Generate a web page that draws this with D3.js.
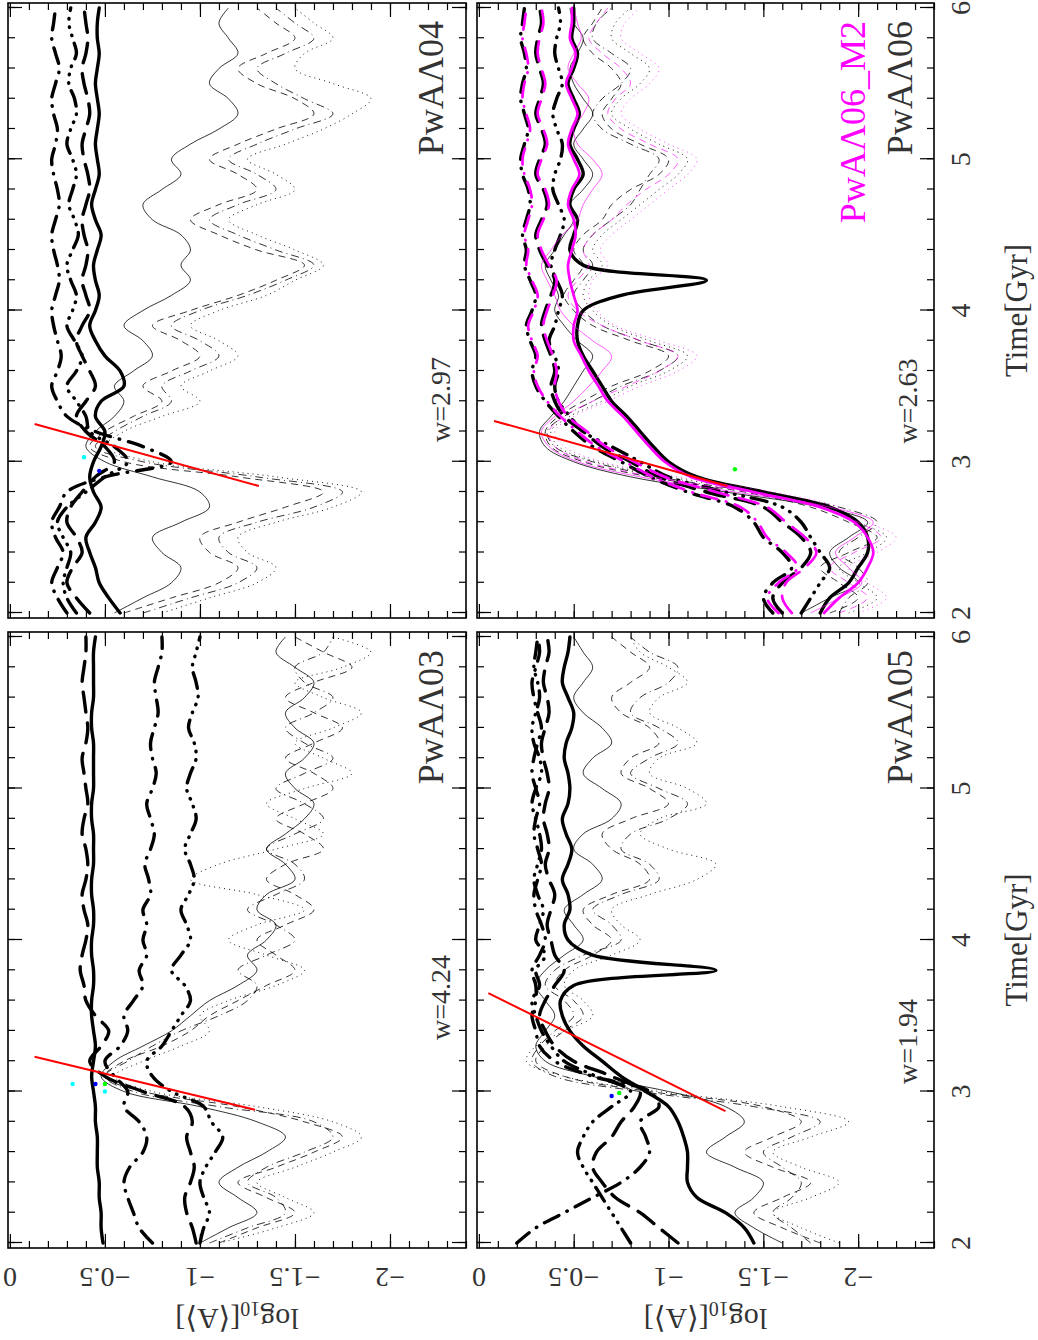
<!DOCTYPE html>
<html>
<head>
<meta charset="utf-8">
<script src="https://cdn.jsdelivr.net/npm/d3@7"></script>
<style>
  body { margin: 0; background: #fff; }
  svg { display: block; }
  text { font-family: "Liberation Serif", "DejaVu Serif", serif; }
</style>
</head>
<body>
<div id="chart"></div>
<script>
// time samples (Gyr), shared by every series
const times = [2.0, 2.1, 2.2, 2.3, 2.4, 2.5, 2.6, 2.7, 2.8, 2.9,
               3.0, 3.1, 3.2, 3.3, 3.4, 3.5, 3.6, 3.7, 3.8, 3.9,
               4.0, 4.1, 4.2, 4.3, 4.4, 4.5, 4.6, 4.7, 4.8, 4.9,
               5.0, 5.1, 5.2, 5.3, 5.4, 5.5, 5.6, 5.7, 5.8, 5.9, 6.0];

const timeTicks = [2, 3, 4, 5, 6];
const timeTickLabels = ['2', '3', '4', '5', '6'];
const valueTicks = [0, -0.5, -1, -1.5, -2];
const valueTickLabels = ['0', '\u22120.5', '\u22121', '\u22121.5', '\u22122'];

// ---- PwAΛ03
const p03_thickSolid = [-0.49,-0.48,-0.48,-0.47,-0.47,-0.46,-0.46,-0.46,-0.45,-0.45,
  -0.44,-0.43,-0.44,-0.45,-0.44,-0.43,-0.43,-0.44,-0.44,-0.43,
  -0.43,-0.44,-0.44,-0.43,-0.43,-0.44,-0.44,-0.44,-0.43,-0.43,
  -0.44,-0.44,-0.44,-0.44,-0.43,-0.43,-0.44,-0.44,-0.44,-0.44,-0.45];
const p03_thickDash = [-0.98,-0.96,-0.93,-0.92,-0.95,-0.97,-0.95,-0.93,-0.96,-0.92,
  -0.70,-0.50,-0.42,-0.48,-0.52,-0.45,-0.40,-0.39,-0.37,-0.38,
  -0.40,-0.41,-0.39,-0.38,-0.40,-0.41,-0.40,-0.38,-0.39,-0.41,
  -0.40,-0.39,-0.38,-0.40,-0.41,-0.40,-0.39,-0.38,-0.39,-0.40,-0.40];
const p03_thickDotDash = [-0.75,-0.68,-0.65,-0.62,-0.60,-0.63,-0.70,-0.72,-0.68,-0.60,
  -0.62,-0.55,-0.50,-0.58,-0.62,-0.60,-0.65,-0.70,-0.68,-0.72,
  -0.70,-0.72,-0.70,-0.74,-0.73,-0.71,-0.74,-0.76,-0.74,-0.72,
  -0.75,-0.77,-0.75,-0.74,-0.76,-0.78,-0.77,-0.76,-0.78,-0.80,-0.80];
const p03_thickDashDots = [-1.00,-1.02,-1.05,-1.02,-1.00,-1.03,-1.08,-1.12,-1.06,-1.02,
  -0.85,-0.75,-0.72,-0.80,-0.85,-0.90,-0.95,-0.92,-0.85,-0.90,
  -0.95,-0.93,-0.90,-0.94,-0.97,-0.95,-0.92,-0.95,-0.98,-0.96,
  -0.93,-0.95,-0.98,-0.97,-0.94,-0.96,-0.99,-0.98,-0.96,-0.98,-1.00];
const p03_thinSolid = [-1.00,-1.15,-1.30,-1.20,-1.10,-1.20,-1.35,-1.45,-1.30,-1.00,
  -0.60,-0.48,-0.55,-0.70,-0.85,-0.95,-1.05,-1.20,-1.30,-1.25,
  -1.35,-1.40,-1.30,-1.35,-1.50,-1.45,-1.35,-1.45,-1.55,-1.60,
  -1.50,-1.45,-1.55,-1.60,-1.50,-1.45,-1.55,-1.60,-1.50,-1.40,-1.45];
const p03_thinDash = [-1.10,-1.30,-1.50,-1.35,-1.20,-1.40,-1.60,-1.75,-1.55,-1.20,
  -0.70,-0.50,-0.60,-0.80,-0.95,-1.05,-1.20,-1.35,-1.50,-1.40,
  -1.30,-1.45,-1.60,-1.50,-1.35,-1.45,-1.65,-1.55,-1.40,-1.55,
  -1.70,-1.60,-1.45,-1.60,-1.75,-1.60,-1.45,-1.60,-1.80,-1.65,-1.50];
const p03_thinDotDash = [-1.05,-1.25,-1.45,-1.40,-1.25,-1.35,-1.55,-1.70,-1.60,-1.10,
  -0.65,-0.50,-0.62,-0.75,-0.90,-1.10,-1.25,-1.30,-1.20,-1.35,
  -1.50,-1.40,-1.25,-1.40,-1.55,-1.50,-1.35,-1.50,-1.65,-1.55,
  -1.40,-1.55,-1.70,-1.55,-1.45,-1.60,-1.70,-1.55,-1.50,-1.65,-1.70];
const p03_thinDot = [-1.10,-1.40,-1.60,-1.45,-1.30,-1.50,-1.70,-1.85,-1.70,-1.30,
  -0.75,-0.55,-0.70,-0.90,-1.05,-1.00,-1.15,-1.40,-1.55,-1.35,
  -1.15,-1.30,-1.55,-1.30,-0.95,-1.10,-1.40,-1.65,-1.50,-1.35,
  -1.55,-1.80,-1.65,-1.50,-1.70,-1.85,-1.65,-1.50,-1.75,-1.90,-1.70];
const p03_fit = [[3.23, -0.13], [2.88, -1.29]];
const p03_dots = [[3.05, -0.33, 'cyan'], [3.05, -0.45, 'blue'], [3.05, -0.50, 'lime'], [3.0, -0.50, 'cyan']];

// ---- PwAΛ04
const p04_thickSolid = [-0.58,-0.52,-0.47,-0.45,-0.42,-0.40,-0.45,-0.48,-0.44,-0.42,
  -0.44,-0.48,-0.50,-0.45,-0.48,-0.60,-0.58,-0.50,-0.45,-0.42,
  -0.45,-0.47,-0.45,-0.44,-0.46,-0.48,-0.45,-0.43,-0.45,-0.47,
  -0.46,-0.45,-0.46,-0.47,-0.46,-0.45,-0.46,-0.47,-0.46,-0.46,-0.47];
const p04_thickDash = [-0.42,-0.35,-0.30,-0.33,-0.38,-0.35,-0.30,-0.32,-0.38,-0.45,
  -0.55,-0.50,-0.40,-0.35,-0.40,-0.45,-0.42,-0.38,-0.35,-0.38,
  -0.42,-0.40,-0.38,-0.40,-0.41,-0.39,-0.38,-0.40,-0.42,-0.41,
  -0.39,-0.38,-0.40,-0.42,-0.41,-0.39,-0.38,-0.40,-0.41,-0.40,-0.39];
const p04_thickDotDash = [-0.30,-0.25,-0.22,-0.25,-0.28,-0.24,-0.22,-0.26,-0.30,-0.50,
  -0.85,-0.70,-0.45,-0.30,-0.25,-0.22,-0.25,-0.27,-0.25,-0.23,
  -0.22,-0.24,-0.26,-0.25,-0.23,-0.22,-0.24,-0.26,-0.25,-0.23,
  -0.22,-0.24,-0.25,-0.23,-0.22,-0.24,-0.26,-0.24,-0.22,-0.23,-0.24];
const p04_thickDashDots = [-0.35,-0.30,-0.28,-0.30,-0.32,-0.28,-0.25,-0.30,-0.40,-0.50,
  -0.62,-0.55,-0.42,-0.40,-0.35,-0.30,-0.35,-0.38,-0.34,-0.30,
  -0.33,-0.35,-0.32,-0.30,-0.33,-0.36,-0.34,-0.31,-0.33,-0.35,
  -0.33,-0.30,-0.32,-0.35,-0.34,-0.31,-0.32,-0.35,-0.33,-0.31,-0.32];
const p04_thinSolid = [-0.55,-0.70,-0.85,-0.90,-0.80,-0.75,-0.90,-1.05,-1.00,-0.75,
  -0.50,-0.40,-0.45,-0.55,-0.60,-0.55,-0.65,-0.75,-0.70,-0.60,
  -0.70,-0.85,-0.95,-0.90,-0.95,-0.90,-0.75,-0.70,-0.80,-0.90,
  -0.85,-0.95,-1.10,-1.20,-1.15,-1.05,-1.10,-1.20,-1.15,-1.10,-1.15];
const p04_thinDash = [-0.60,-0.85,-1.10,-1.20,-1.05,-1.00,-1.20,-1.45,-1.65,-1.20,
  -0.60,-0.42,-0.50,-0.65,-0.80,-0.70,-0.85,-1.00,-0.90,-0.75,
  -0.95,-1.20,-1.40,-1.55,-1.30,-1.10,-0.95,-1.10,-1.30,-1.20,
  -1.05,-1.20,-1.40,-1.60,-1.50,-1.30,-1.20,-1.35,-1.50,-1.40,-1.30];
const p04_thinDotDash = [-0.70,-0.95,-1.20,-1.30,-1.15,-1.10,-1.30,-1.60,-1.75,-1.30,
  -0.70,-0.45,-0.55,-0.70,-0.85,-0.80,-0.95,-1.10,-1.00,-0.85,
  -1.00,-1.25,-1.45,-1.60,-1.40,-1.20,-1.05,-1.20,-1.40,-1.30,
  -1.15,-1.30,-1.50,-1.70,-1.55,-1.40,-1.30,-1.45,-1.60,-1.50,-1.40];
const p04_thinDot = [-0.80,-1.05,-1.30,-1.40,-1.25,-1.20,-1.40,-1.70,-1.85,-1.40,
  -0.75,-0.50,-0.60,-0.80,-1.00,-0.90,-1.05,-1.20,-1.10,-0.95,
  -1.10,-1.35,-1.50,-1.65,-1.50,-1.30,-1.15,-1.30,-1.50,-1.40,
  -1.25,-1.45,-1.65,-1.80,-1.90,-1.70,-1.50,-1.55,-1.70,-1.60,-1.50];
const p04_fit = [[3.25, -0.13], [2.84, -1.31]];
const p04_dots = [[3.03, -0.39, 'cyan'], [2.94, -0.47, 'blue']];

// ---- PwAΛ05
const p05_thickSolid = [-1.45,-1.40,-1.30,-1.15,-1.10,-1.10,-1.10,-1.08,-1.05,-1.00,
  -0.88,-0.75,-0.65,-0.55,-0.48,-0.44,-0.43,-0.50,-1.25,-0.60,
  -0.47,-0.45,-0.48,-0.47,-0.44,-0.47,-0.49,-0.46,-0.44,-0.47,
  -0.48,-0.47,-0.45,-0.46,-0.49,-0.50,-0.47,-0.44,-0.45,-0.47,-0.48];
const p05_thickDash = [-1.05,-0.95,-0.85,-0.72,-0.65,-0.60,-0.62,-0.70,-0.75,-0.82,
  -0.85,-0.70,-0.50,-0.40,-0.35,-0.32,-0.35,-0.40,-0.45,-0.40,
  -0.38,-0.36,-0.38,-0.40,-0.37,-0.35,-0.37,-0.36,-0.34,-0.35,
  -0.37,-0.36,-0.34,-0.33,-0.35,-0.37,-0.36,-0.34,-0.35,-0.37,-0.36];
const p05_thickDotDash = [-0.20,-0.30,-0.45,-0.60,-0.75,-0.85,-0.90,-0.88,-0.85,-0.95,
  -0.90,-0.60,-0.40,-0.32,-0.30,-0.28,-0.30,-0.30,-0.28,-0.32,
  -0.35,-0.33,-0.30,-0.29,-0.31,-0.33,-0.31,-0.29,-0.30,-0.32,
  -0.30,-0.28,-0.29,-0.31,-0.33,-0.31,-0.29,-0.28,-0.30,-0.32,-0.31];
const p05_thickDashDots = [-0.80,-0.75,-0.70,-0.65,-0.60,-0.55,-0.52,-0.55,-0.60,-0.70,
  -0.80,-0.62,-0.45,-0.38,-0.33,-0.30,-0.28,-0.32,-0.30,-0.35,
  -0.30,-0.32,-0.34,-0.31,-0.29,-0.31,-0.33,-0.32,-0.30,-0.28,
  -0.30,-0.33,-0.32,-0.29,-0.28,-0.30,-0.32,-0.31,-0.29,-0.30,-0.31];
const p05_thinSolid = [-1.60,-1.45,-1.35,-1.45,-1.50,-1.35,-1.20,-1.30,-1.40,-1.30,
  -1.00,-0.60,-0.35,-0.30,-0.35,-0.40,-0.35,-0.30,-0.35,-0.45,
  -0.55,-0.50,-0.45,-0.55,-0.65,-0.60,-0.50,-0.55,-0.70,-0.75,
  -0.65,-0.55,-0.60,-0.70,-0.65,-0.55,-0.50,-0.55,-0.60,-0.55,-0.50];
const p05_thinDash = [-1.80,-1.60,-1.45,-1.60,-1.75,-1.55,-1.40,-1.55,-1.70,-1.50,
  -0.90,-0.45,-0.30,-0.35,-0.45,-0.55,-0.50,-0.40,-0.45,-0.60,
  -0.70,-0.60,-0.55,-0.70,-0.90,-0.85,-0.70,-0.65,-0.80,-1.00,
  -0.90,-0.75,-0.80,-0.95,-0.90,-0.75,-0.70,-0.80,-0.90,-0.80,-0.70];
const p05_thinDotDash = [-1.75,-1.65,-1.55,-1.65,-1.70,-1.60,-1.50,-1.65,-1.80,-1.45,
  -0.85,-0.40,-0.28,-0.32,-0.40,-0.50,-0.45,-0.35,-0.40,-0.55,
  -0.75,-0.70,-0.60,-0.75,-0.95,-0.90,-0.75,-0.80,-1.00,-1.10,
  -0.95,-0.80,-0.90,-1.05,-0.95,-0.80,-0.85,-1.00,-1.05,-0.90,-0.80];
const p05_thinDot = [-1.90,-1.70,-1.55,-1.75,-1.90,-1.70,-1.55,-1.75,-1.95,-1.60,
  -0.95,-0.45,-0.25,-0.30,-0.45,-0.60,-0.55,-0.45,-0.50,-0.70,
  -0.85,-0.75,-0.70,-0.90,-1.15,-1.25,-1.00,-0.85,-0.95,-1.20,
  -1.10,-0.90,-0.95,-1.15,-1.05,-0.90,-0.95,-1.10,-1.00,-0.85,-0.80];
const p05_fit = [[3.65, -0.05], [2.87, -1.30]];
const p05_dots = [[2.99, -0.74, 'lime'], [2.97, -0.70, 'blue']];

// ---- PwAΛ06 (black) and PwAΛ06_M2 (magenta)
const p06_thickSolid = [-1.80,-1.85,-1.95,-2.00,-2.05,-2.05,-2.00,-1.85,-1.50,-1.15,
  -1.00,-0.92,-0.85,-0.78,-0.70,-0.65,-0.60,-0.55,-0.52,-0.52,
  -0.55,-0.75,-1.20,-0.55,-0.48,-0.50,-0.52,-0.48,-0.50,-0.55,
  -0.52,-0.48,-0.50,-0.53,-0.50,-0.47,-0.50,-0.52,-0.49,-0.50,-0.50];
const p06_thickDash = [-1.60,-1.55,-1.60,-1.70,-1.75,-1.70,-1.60,-1.50,-1.20,-0.95,
  -0.80,-0.65,-0.55,-0.45,-0.40,-0.38,-0.40,-0.38,-0.35,-0.33,
  -0.35,-0.38,-0.40,-0.36,-0.32,-0.30,-0.33,-0.36,-0.34,-0.30,
  -0.32,-0.35,-0.33,-0.30,-0.32,-0.34,-0.32,-0.30,-0.31,-0.33,-0.32];
const p06_thickDotDash = [-1.55,-1.50,-1.55,-1.65,-1.60,-1.50,-1.45,-1.35,-1.10,-0.90,
  -0.75,-0.60,-0.50,-0.42,-0.35,-0.30,-0.28,-0.30,-0.27,-0.25,
  -0.28,-0.30,-0.27,-0.24,-0.25,-0.23,-0.25,-0.27,-0.26,-0.23,
  -0.22,-0.24,-0.26,-0.24,-0.22,-0.23,-0.25,-0.24,-0.22,-0.23,-0.24];
const p06_thickDashDots = [-1.70,-1.75,-1.80,-1.85,-1.80,-1.75,-1.70,-1.60,-1.30,-1.00,
  -0.85,-0.70,-0.55,-0.48,-0.42,-0.40,-0.42,-0.40,-0.37,-0.40,
  -0.42,-0.44,-0.41,-0.38,-0.40,-0.43,-0.45,-0.42,-0.39,-0.40,
  -0.43,-0.44,-0.41,-0.39,-0.41,-0.44,-0.42,-0.40,-0.41,-0.43,-0.42];
const p06_thinSolid = [-1.70,-1.85,-2.00,-1.90,-1.85,-1.95,-2.05,-1.80,-1.30,-0.80,
  -0.50,-0.35,-0.32,-0.38,-0.45,-0.50,-0.55,-0.60,-0.52,-0.45,
  -0.40,-0.42,-0.38,-0.35,-0.40,-0.45,-0.50,-0.48,-0.55,-0.60,
  -0.55,-0.50,-0.55,-0.60,-0.55,-0.50,-0.48,-0.52,-0.55,-0.50,-0.48];
const p06_thinDash = [-1.85,-2.00,-1.90,-1.80,-1.95,-2.10,-1.95,-1.75,-1.40,-0.90,
  -0.55,-0.38,-0.35,-0.42,-0.55,-0.70,-0.90,-1.00,-0.80,-0.60,
  -0.50,-0.45,-0.50,-0.55,-0.50,-0.55,-0.65,-0.70,-0.80,-0.95,
  -1.00,-0.85,-0.70,-0.65,-0.70,-0.75,-0.70,-0.60,-0.55,-0.60,-0.65];
const p06_thinDotDash = [-1.90,-1.95,-2.05,-2.00,-1.90,-2.00,-2.10,-1.90,-1.45,-0.95,
  -0.60,-0.40,-0.36,-0.45,-0.60,-0.75,-0.95,-1.05,-0.85,-0.65,
  -0.55,-0.50,-0.55,-0.60,-0.55,-0.60,-0.70,-0.80,-0.85,-0.90,
  -0.95,-0.80,-0.65,-0.60,-0.65,-0.75,-0.80,-0.70,-0.60,-0.62,-0.70];
const p06_thinDot = [-1.95,-2.10,-2.00,-1.90,-2.05,-2.15,-2.00,-1.85,-1.50,-1.00,
  -0.62,-0.42,-0.38,-0.48,-0.65,-0.80,-1.00,-1.10,-0.90,-0.70,
  -0.60,-0.55,-0.58,-0.65,-0.60,-0.65,-0.75,-0.85,-0.95,-1.05,
  -1.10,-0.95,-0.80,-0.70,-0.75,-0.85,-0.90,-0.80,-0.70,-0.72,-0.80];
const p06m_thickSolid = [-1.82,-1.90,-2.00,-2.05,-2.08,-2.05,-1.98,-1.80,-1.45,-1.12,
  -0.98,-0.90,-0.83,-0.76,-0.68,-0.63,-0.58,-0.54,-0.50,-0.50,
  -0.52,-0.50,-0.48,-0.47,-0.49,-0.51,-0.50,-0.47,-0.49,-0.53,
  -0.50,-0.47,-0.49,-0.52,-0.49,-0.46,-0.49,-0.51,-0.48,-0.49,-0.49];
const p06m_thickDash = [-1.65,-1.60,-1.62,-1.72,-1.78,-1.72,-1.62,-1.52,-1.25,-0.98,
  -0.82,-0.67,-0.57,-0.47,-0.42,-0.40,-0.41,-0.39,-0.36,-0.34,
  -0.36,-0.39,-0.41,-0.37,-0.33,-0.31,-0.34,-0.37,-0.35,-0.31,
  -0.33,-0.36,-0.34,-0.31,-0.33,-0.35,-0.33,-0.31,-0.32,-0.34,-0.33];
const p06m_thickDotDash = [-1.58,-1.52,-1.58,-1.68,-1.62,-1.52,-1.47,-1.38,-1.12,-0.92,
  -0.77,-0.62,-0.52,-0.43,-0.36,-0.31,-0.29,-0.31,-0.28,-0.26,
  -0.29,-0.31,-0.28,-0.25,-0.26,-0.24,-0.26,-0.28,-0.27,-0.24,
  -0.23,-0.25,-0.27,-0.25,-0.23,-0.24,-0.26,-0.25,-0.23,-0.24,-0.25];
const p06m_thinSolid = [-1.75,-1.90,-2.02,-1.95,-1.88,-1.98,-2.08,-1.85,-1.35,-0.85,
  -0.52,-0.37,-0.33,-0.40,-0.50,-0.58,-0.65,-0.70,-0.60,-0.50,
  -0.43,-0.40,-0.36,-0.33,-0.38,-0.44,-0.52,-0.55,-0.60,-0.65,
  -0.60,-0.52,-0.50,-0.55,-0.58,-0.52,-0.47,-0.50,-0.54,-0.52,-0.50];
const p06m_thinDash = [-1.90,-2.05,-1.95,-1.85,-1.98,-2.12,-2.00,-1.80,-1.42,-0.92,
  -0.57,-0.40,-0.37,-0.45,-0.60,-0.78,-0.95,-1.05,-0.85,-0.65,
  -0.52,-0.47,-0.52,-0.58,-0.55,-0.60,-0.70,-0.78,-0.88,-1.00,
  -1.05,-0.90,-0.75,-0.68,-0.72,-0.80,-0.75,-0.65,-0.58,-0.62,-0.68];
const p06m_thinDot = [-2.00,-2.15,-2.05,-1.95,-2.10,-2.20,-2.05,-1.90,-1.55,-1.05,
  -0.65,-0.45,-0.40,-0.50,-0.68,-0.85,-1.05,-1.15,-0.95,-0.72,
  -0.62,-0.58,-0.60,-0.68,-0.64,-0.70,-0.80,-0.90,-1.00,-1.10,
  -1.15,-1.00,-0.85,-0.75,-0.80,-0.90,-0.95,-0.85,-0.75,-0.77,-0.85];
const p06_fit = [[3.27, -0.08], [2.84, -1.31]];
const p06_dots = [[2.95, -1.35, 'lime']];

// ---- layout (drawn landscape, then turned a quarter to fit the page)
const page_width = 1038;
const page_height = 1340;
const col_x = [[92, 708], [722, 1337]];
const row_y = [[8, 466], [477, 934]];
const time_domain = [1.967, 6.033];
const value_domain = [0.01, -2.4];

const line_styles = {
  thickSolid:    { w: 3.4, dash: null },
  thickDash:     { w: 3.4, dash: '20,11' },
  thickDotDash:  { w: 3.4, dash: '16,9,0.5,9' },
  thickDashDots: { w: 3.4, dash: '16,8,0.5,8,0.5,8,0.5,8' },
  thinSolid:     { w: 0.8, dash: null },
  thinDash:      { w: 0.8, dash: '7,5' },
  thinDotDash:   { w: 0.8, dash: '8,4,1,4' },
  thinDot:       { w: 0.9, dash: '1,4' }
};

const panels = [
  { name: 'PwA\u039B03', w: 'w=4.24', wt: 3.34, col: 0, row: 0, fit: p03_fit, dots: p03_dots,
    series: [['thinDot', p03_thinDot], ['thinDotDash', p03_thinDotDash], ['thinDash', p03_thinDash], ['thinSolid', p03_thinSolid],
             ['thickDashDots', p03_thickDashDots], ['thickDotDash', p03_thickDotDash], ['thickDash', p03_thickDash], ['thickSolid', p03_thickSolid]] },
  { name: 'PwA\u039B04', w: 'w=2.97', wt: 3.13, col: 1, row: 0, fit: p04_fit, dots: p04_dots,
    series: [['thinDot', p04_thinDot], ['thinDotDash', p04_thinDotDash], ['thinDash', p04_thinDash], ['thinSolid', p04_thinSolid],
             ['thickDashDots', p04_thickDashDots], ['thickDotDash', p04_thickDotDash], ['thickDash', p04_thickDash], ['thickSolid', p04_thickSolid]] },
  { name: 'PwA\u039B05', w: 'w=1.94', wt: 3.05, col: 0, row: 1, fit: p05_fit, dots: p05_dots,
    series: [['thinDot', p05_thinDot], ['thinDotDash', p05_thinDotDash], ['thinDash', p05_thinDash], ['thinSolid', p05_thinSolid],
             ['thickDashDots', p05_thickDashDots], ['thickDotDash', p05_thickDotDash], ['thickDash', p05_thickDash], ['thickSolid', p05_thickSolid]] },
  { name: 'PwA\u039B06', w: 'w=2.63', wt: 3.12, col: 1, row: 1, fit: p06_fit, dots: p06_dots, extra: 'PwA\u039B06_M2',
    series: [['thinDot', p06_thinDot], ['thinDotDash', p06_thinDotDash], ['thinDash', p06_thinDash], ['thinSolid', p06_thinSolid],
             ['thickDashDots', p06_thickDashDots], ['thickDotDash', p06_thickDotDash], ['thickDash', p06_thickDash], ['thickSolid', p06_thickSolid]],
    magenta: [['thinDot', p06m_thinDot], ['thinDash', p06m_thinDash], ['thinSolid', p06m_thinSolid],
              ['thickDotDash', p06m_thickDotDash], ['thickDash', p06m_thickDash], ['thickSolid', p06m_thickSolid]] }
];

const svg = d3.select('#chart')
  .append('svg')
  .attr('width', page_width)
  .attr('height', page_height);

svg.append('rect').attr('width', page_width).attr('height', page_height).attr('fill', '#fff');

// landscape (X, Y) -> page (Y, 1340 - X)
const root = svg.append('g').attr('transform', `translate(0,${page_height}) rotate(-90)`);

const label_color = '#333';

panels.forEach((p, i) => {
  const [x0, x1] = col_x[p.col];
  const [y0, y1] = row_y[p.row];
  const x = d3.scaleLinear().domain(time_domain).range([x0, x1]);
  const y = d3.scaleLinear().domain(value_domain).range([y0, y1]);

  const g = root.append('g');
  const clipId = 'clip' + i;
  g.append('clipPath').attr('id', clipId)
    .append('rect').attr('x', x0).attr('y', y0).attr('width', x1 - x0).attr('height', y1 - y0);

  const line = d3.line()
    .x((d, k) => x(times[k]))
    .y(d => y(d))
    .curve(d3.curveCatmullRom.alpha(0.5));

  const plot = g.append('g').attr('clip-path', `url(#${clipId})`);

  const drawSeries = (list, color, scaleW) => {
    list.forEach(([style, values]) => {
      const st = line_styles[style];
      plot.append('path')
        .attr('d', line(values))
        .attr('fill', 'none')
        .attr('stroke', color)
        .attr('stroke-width', st.w * scaleW)
        .attr('stroke-linecap', st.w > 2 ? 'round' : 'butt')
        .attr('stroke-linejoin', 'round')
        .attr('stroke-dasharray', st.dash);
    });
  };

  drawSeries(p.series, '#000', 1);
  if (p.magenta) drawSeries(p.magenta, '#ff00ff', 0.8);

  // coloured markers at the transition
  plot.selectAll('circle.mark')
    .data(p.dots)
    .enter()
    .append('circle')
    .attr('cx', d => x(d[0]))
    .attr('cy', d => y(d[1]))
    .attr('r', 2.2)
    .attr('fill', d => d[2]);

  // red fit line
  plot.append('line')
    .attr('x1', x(p.fit[0][0])).attr('y1', y(p.fit[0][1]))
    .attr('x2', x(p.fit[1][0])).attr('y2', y(p.fit[1][1]))
    .attr('stroke', '#ff0000')
    .attr('stroke-width', 2);

  // ticks, inward on all four sides
  const minorT = x.ticks(20);
  const minorV = y.ticks(25);
  const axes = [
    [d3.axisBottom(x), `translate(0,${y1})`, minorT, timeTicks],
    [d3.axisTop(x), `translate(0,${y0})`, minorT, timeTicks],
    [d3.axisLeft(y), `translate(${x0},0)`, minorV, valueTicks],
    [d3.axisRight(y), `translate(${x1},0)`, minorV, valueTicks]
  ];
  axes.forEach(([ax, tr, minor, major]) => {
    [[minor, -7], [major, -14]].forEach(([vals, size]) => {
      const a = g.append('g').attr('transform', tr)
        .call(ax.tickValues(vals).tickSize(size).tickFormat(''));
      a.select('.domain').remove();
      a.selectAll('line').attr('stroke', '#000').attr('stroke-width', 1.2);
    });
  });

  g.append('rect')
    .attr('x', x0).attr('y', y0).attr('width', x1 - x0).attr('height', y1 - y0)
    .attr('fill', 'none').attr('stroke', '#000').attr('stroke-width', 1.6);

  // panel labels
  g.append('text')
    .attr('x', x1 - 18).attr('y', p.row === 0 ? 443 : 912)
    .attr('text-anchor', 'end')
    .attr('font-size', 36)
    .attr('fill', label_color)
    .text(p.name);
  if (p.extra) {
    g.append('text')
      .attr('x', x1 - 18).attr('y', 865)
      .attr('text-anchor', 'end')
      .attr('font-size', 36)
      .attr('fill', '#ff00ff')
      .text(p.extra);
  }
  g.append('text')
    .attr('x', x(p.wt)).attr('y', p.row === 0 ? 450 : 917)
    .attr('font-size', 28)
    .attr('fill', label_color)
    .text(p.w);

  // time tick labels under the lower row
  if (p.row === 1) {
    g.selectAll('text.tl')
      .data(timeTicks)
      .enter()
      .append('text')
      .attr('x', d => x(d))
      .attr('y', 970)
      .attr('text-anchor', 'middle')
      .attr('font-size', 28)
      .attr('fill', label_color)
      .text((d, k) => timeTickLabels[k]);
    g.append('text')
      .attr('x', (x0 + x1) / 2)
      .attr('y', 1027)
      .attr('text-anchor', 'middle')
      .attr('font-size', 31)
      .attr('fill', label_color)
      .text('Time[Gyr]');
  }

  // value tick labels on the left column
  if (p.col === 0) {
    g.selectAll('text.vl')
      .data(valueTicks)
      .enter()
      .append('text')
      .attr('transform', d => `translate(72,${y(d)}) rotate(-90)`)
      .attr('text-anchor', 'middle')
      .attr('font-size', 28)
      .attr('fill', label_color)
      .text((d, k) => valueTickLabels[k]);
    const t = g.append('text')
      .attr('transform', `translate(31,${(y0 + y1) / 2}) rotate(-90)`)
      .attr('text-anchor', 'middle')
      .attr('font-size', 30)
      .attr('fill', label_color);
    t.append('tspan').text('log');
    t.append('tspan').attr('font-size', 20).attr('dy', 7).text('10');
    t.append('tspan').attr('dy', -7).text('[\u27E8A\u27E9]');
  }
});
</script>
</body>
</html>
